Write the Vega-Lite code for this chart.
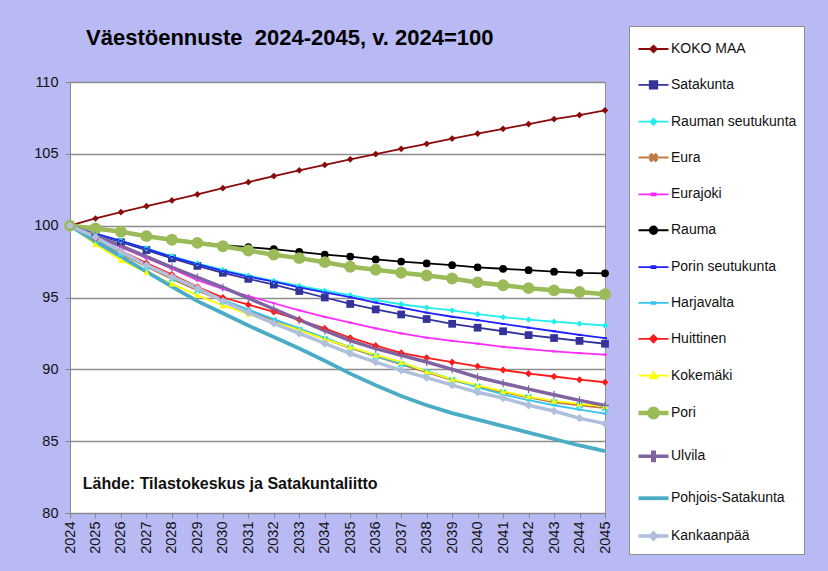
{
"$schema": "https://vega.github.io/schema/vega-lite/v6.json",
"autosize": {"type": "none"},
"width": 535,
"height": 431,
"padding": {"left": 70, "top": 82, "right": 223, "bottom": 58},
"background": "#b9b9f4",
"title": {"text": "Väestöennuste\u00a0 2024-2045, v. 2024=100", "anchor": "start", "frame": "group", "dx": 16, "dy": 56, "offset": 32, "font": "Liberation Sans", "fontSize": 22, "fontWeight": "bold", "color": "#000000"},
"data": {"values": [
{"s":"KOKO MAA","t":2024,"v":100},{"s":"KOKO MAA","t":2025,"v":100.5},{"s":"KOKO MAA","t":2026,"v":100.94},{"s":"KOKO MAA","t":2027,"v":101.36},{"s":"KOKO MAA","t":2028,"v":101.76},{"s":"KOKO MAA","t":2029,"v":102.18},{"s":"KOKO MAA","t":2030,"v":102.61},{"s":"KOKO MAA","t":2031,"v":103.03},{"s":"KOKO MAA","t":2032,"v":103.45},{"s":"KOKO MAA","t":2033,"v":103.85},{"s":"KOKO MAA","t":2034,"v":104.23},{"s":"KOKO MAA","t":2035,"v":104.62},{"s":"KOKO MAA","t":2036,"v":104.98},{"s":"KOKO MAA","t":2037,"v":105.35},{"s":"KOKO MAA","t":2038,"v":105.7},{"s":"KOKO MAA","t":2039,"v":106.06},{"s":"KOKO MAA","t":2040,"v":106.41},{"s":"KOKO MAA","t":2041,"v":106.74},{"s":"KOKO MAA","t":2042,"v":107.07},{"s":"KOKO MAA","t":2043,"v":107.42},{"s":"KOKO MAA","t":2044,"v":107.7},{"s":"KOKO MAA","t":2045,"v":108.03},
{"s":"Satakunta","t":2024,"v":100},{"s":"Satakunta","t":2025,"v":99.4},{"s":"Satakunta","t":2026,"v":98.85},{"s":"Satakunta","t":2027,"v":98.3},{"s":"Satakunta","t":2028,"v":97.72},{"s":"Satakunta","t":2029,"v":97.2},{"s":"Satakunta","t":2030,"v":96.72},{"s":"Satakunta","t":2031,"v":96.3},{"s":"Satakunta","t":2032,"v":95.9},{"s":"Satakunta","t":2033,"v":95.45},{"s":"Satakunta","t":2034,"v":95.0},{"s":"Satakunta","t":2035,"v":94.55},{"s":"Satakunta","t":2036,"v":94.17},{"s":"Satakunta","t":2037,"v":93.82},{"s":"Satakunta","t":2038,"v":93.5},{"s":"Satakunta","t":2039,"v":93.17},{"s":"Satakunta","t":2040,"v":92.9},{"s":"Satakunta","t":2041,"v":92.65},{"s":"Satakunta","t":2042,"v":92.38},{"s":"Satakunta","t":2043,"v":92.18},{"s":"Satakunta","t":2044,"v":91.98},{"s":"Satakunta","t":2045,"v":91.78},
{"s":"Rauman seutukunta","t":2024,"v":100},{"s":"Rauman seutukunta","t":2025,"v":99.45},{"s":"Rauman seutukunta","t":2026,"v":98.95},{"s":"Rauman seutukunta","t":2027,"v":98.42},{"s":"Rauman seutukunta","t":2028,"v":97.87},{"s":"Rauman seutukunta","t":2029,"v":97.37},{"s":"Rauman seutukunta","t":2030,"v":96.92},{"s":"Rauman seutukunta","t":2031,"v":96.52},{"s":"Rauman seutukunta","t":2032,"v":96.15},{"s":"Rauman seutukunta","t":2033,"v":95.8},{"s":"Rauman seutukunta","t":2034,"v":95.47},{"s":"Rauman seutukunta","t":2035,"v":95.16},{"s":"Rauman seutukunta","t":2036,"v":94.82},{"s":"Rauman seutukunta","t":2037,"v":94.53},{"s":"Rauman seutukunta","t":2038,"v":94.3},{"s":"Rauman seutukunta","t":2039,"v":94.1},{"s":"Rauman seutukunta","t":2040,"v":93.84},{"s":"Rauman seutukunta","t":2041,"v":93.63},{"s":"Rauman seutukunta","t":2042,"v":93.46},{"s":"Rauman seutukunta","t":2043,"v":93.32},{"s":"Rauman seutukunta","t":2044,"v":93.18},{"s":"Rauman seutukunta","t":2045,"v":93.05},
{"s":"Eura","t":2024,"v":100},{"s":"Eura","t":2025,"v":99.0},{"s":"Eura","t":2026,"v":98.05},{"s":"Eura","t":2027,"v":97.15},{"s":"Eura","t":2028,"v":96.3},{"s":"Eura","t":2029,"v":95.5},{"s":"Eura","t":2030,"v":94.75},{"s":"Eura","t":2031,"v":94.05},{"s":"Eura","t":2032,"v":93.4},{"s":"Eura","t":2033,"v":92.75},{"s":"Eura","t":2034,"v":92.1},{"s":"Eura","t":2035,"v":91.5},{"s":"Eura","t":2036,"v":90.9},{"s":"Eura","t":2037,"v":90.35},{"s":"Eura","t":2038,"v":89.8},{"s":"Eura","t":2039,"v":89.25},{"s":"Eura","t":2040,"v":88.8},{"s":"Eura","t":2041,"v":88.4},{"s":"Eura","t":2042,"v":88.05},{"s":"Eura","t":2043,"v":87.7},{"s":"Eura","t":2044,"v":87.5},{"s":"Eura","t":2045,"v":87.3},
{"s":"Eurajoki","t":2024,"v":100},{"s":"Eurajoki","t":2025,"v":99.25},{"s":"Eurajoki","t":2026,"v":98.5},{"s":"Eurajoki","t":2027,"v":97.75},{"s":"Eurajoki","t":2028,"v":97.0},{"s":"Eurajoki","t":2029,"v":96.2},{"s":"Eurajoki","t":2030,"v":95.6},{"s":"Eurajoki","t":2031,"v":95.1},{"s":"Eurajoki","t":2032,"v":94.6},{"s":"Eurajoki","t":2033,"v":94.1},{"s":"Eurajoki","t":2034,"v":93.65},{"s":"Eurajoki","t":2035,"v":93.25},{"s":"Eurajoki","t":2036,"v":92.85},{"s":"Eurajoki","t":2037,"v":92.5},{"s":"Eurajoki","t":2038,"v":92.2},{"s":"Eurajoki","t":2039,"v":91.98},{"s":"Eurajoki","t":2040,"v":91.79},{"s":"Eurajoki","t":2041,"v":91.57},{"s":"Eurajoki","t":2042,"v":91.4},{"s":"Eurajoki","t":2043,"v":91.25},{"s":"Eurajoki","t":2044,"v":91.13},{"s":"Eurajoki","t":2045,"v":91.02},
{"s":"Rauma","t":2024,"v":100},{"s":"Rauma","t":2025,"v":99.8},{"s":"Rauma","t":2026,"v":99.57},{"s":"Rauma","t":2027,"v":99.3},{"s":"Rauma","t":2028,"v":99.05},{"s":"Rauma","t":2029,"v":98.85},{"s":"Rauma","t":2030,"v":98.65},{"s":"Rauma","t":2031,"v":98.5},{"s":"Rauma","t":2032,"v":98.36},{"s":"Rauma","t":2033,"v":98.18},{"s":"Rauma","t":2034,"v":97.98},{"s":"Rauma","t":2035,"v":97.85},{"s":"Rauma","t":2036,"v":97.65},{"s":"Rauma","t":2037,"v":97.5},{"s":"Rauma","t":2038,"v":97.37},{"s":"Rauma","t":2039,"v":97.25},{"s":"Rauma","t":2040,"v":97.1},{"s":"Rauma","t":2041,"v":97.0},{"s":"Rauma","t":2042,"v":96.9},{"s":"Rauma","t":2043,"v":96.8},{"s":"Rauma","t":2044,"v":96.72},{"s":"Rauma","t":2045,"v":96.68},
{"s":"Porin seutukunta","t":2024,"v":100},{"s":"Porin seutukunta","t":2025,"v":99.45},{"s":"Porin seutukunta","t":2026,"v":98.95},{"s":"Porin seutukunta","t":2027,"v":98.4},{"s":"Porin seutukunta","t":2028,"v":97.82},{"s":"Porin seutukunta","t":2029,"v":97.33},{"s":"Porin seutukunta","t":2030,"v":96.85},{"s":"Porin seutukunta","t":2031,"v":96.45},{"s":"Porin seutukunta","t":2032,"v":96.1},{"s":"Porin seutukunta","t":2033,"v":95.7},{"s":"Porin seutukunta","t":2034,"v":95.35},{"s":"Porin seutukunta","t":2035,"v":95.03},{"s":"Porin seutukunta","t":2036,"v":94.65},{"s":"Porin seutukunta","t":2037,"v":94.3},{"s":"Porin seutukunta","t":2038,"v":93.95},{"s":"Porin seutukunta","t":2039,"v":93.66},{"s":"Porin seutukunta","t":2040,"v":93.42},{"s":"Porin seutukunta","t":2041,"v":93.16},{"s":"Porin seutukunta","t":2042,"v":92.9},{"s":"Porin seutukunta","t":2043,"v":92.65},{"s":"Porin seutukunta","t":2044,"v":92.4},{"s":"Porin seutukunta","t":2045,"v":92.17},
{"s":"Harjavalta","t":2024,"v":100},{"s":"Harjavalta","t":2025,"v":99.1},{"s":"Harjavalta","t":2026,"v":98.15},{"s":"Harjavalta","t":2027,"v":97.25},{"s":"Harjavalta","t":2028,"v":96.4},{"s":"Harjavalta","t":2029,"v":95.6},{"s":"Harjavalta","t":2030,"v":94.85},{"s":"Harjavalta","t":2031,"v":94.15},{"s":"Harjavalta","t":2032,"v":93.5},{"s":"Harjavalta","t":2033,"v":92.85},{"s":"Harjavalta","t":2034,"v":92.2},{"s":"Harjavalta","t":2035,"v":91.55},{"s":"Harjavalta","t":2036,"v":90.95},{"s":"Harjavalta","t":2037,"v":90.4},{"s":"Harjavalta","t":2038,"v":89.9},{"s":"Harjavalta","t":2039,"v":89.3},{"s":"Harjavalta","t":2040,"v":88.75},{"s":"Harjavalta","t":2041,"v":88.25},{"s":"Harjavalta","t":2042,"v":87.85},{"s":"Harjavalta","t":2043,"v":87.5},{"s":"Harjavalta","t":2044,"v":87.2},{"s":"Harjavalta","t":2045,"v":86.92},
{"s":"Huittinen","t":2024,"v":100},{"s":"Huittinen","t":2025,"v":99.1},{"s":"Huittinen","t":2026,"v":98.25},{"s":"Huittinen","t":2027,"v":97.4},{"s":"Huittinen","t":2028,"v":96.6},{"s":"Huittinen","t":2029,"v":95.75},{"s":"Huittinen","t":2030,"v":95.0},{"s":"Huittinen","t":2031,"v":94.5},{"s":"Huittinen","t":2032,"v":94.0},{"s":"Huittinen","t":2033,"v":93.45},{"s":"Huittinen","t":2034,"v":92.85},{"s":"Huittinen","t":2035,"v":92.2},{"s":"Huittinen","t":2036,"v":91.65},{"s":"Huittinen","t":2037,"v":91.15},{"s":"Huittinen","t":2038,"v":90.8},{"s":"Huittinen","t":2039,"v":90.5},{"s":"Huittinen","t":2040,"v":90.21},{"s":"Huittinen","t":2041,"v":89.95},{"s":"Huittinen","t":2042,"v":89.7},{"s":"Huittinen","t":2043,"v":89.5},{"s":"Huittinen","t":2044,"v":89.28},{"s":"Huittinen","t":2045,"v":89.1},
{"s":"Kokemäki","t":2024,"v":100},{"s":"Kokemäki","t":2025,"v":98.7},{"s":"Kokemäki","t":2026,"v":97.6},{"s":"Kokemäki","t":2027,"v":96.75},{"s":"Kokemäki","t":2028,"v":95.95},{"s":"Kokemäki","t":2029,"v":95.15},{"s":"Kokemäki","t":2030,"v":94.45},{"s":"Kokemäki","t":2031,"v":93.85},{"s":"Kokemäki","t":2032,"v":93.3},{"s":"Kokemäki","t":2033,"v":92.75},{"s":"Kokemäki","t":2034,"v":92.1},{"s":"Kokemäki","t":2035,"v":91.55},{"s":"Kokemäki","t":2036,"v":91.0},{"s":"Kokemäki","t":2037,"v":90.5},{"s":"Kokemäki","t":2038,"v":89.85},{"s":"Kokemäki","t":2039,"v":89.3},{"s":"Kokemäki","t":2040,"v":88.88},{"s":"Kokemäki","t":2041,"v":88.46},{"s":"Kokemäki","t":2042,"v":88.1},{"s":"Kokemäki","t":2043,"v":87.8},{"s":"Kokemäki","t":2044,"v":87.6},{"s":"Kokemäki","t":2045,"v":87.43},
{"s":"Pori","t":2024,"v":100},{"s":"Pori","t":2025,"v":99.81},{"s":"Pori","t":2026,"v":99.58},{"s":"Pori","t":2027,"v":99.27},{"s":"Pori","t":2028,"v":99.02},{"s":"Pori","t":2029,"v":98.8},{"s":"Pori","t":2030,"v":98.57},{"s":"Pori","t":2031,"v":98.27},{"s":"Pori","t":2032,"v":97.98},{"s":"Pori","t":2033,"v":97.74},{"s":"Pori","t":2034,"v":97.46},{"s":"Pori","t":2035,"v":97.14},{"s":"Pori","t":2036,"v":96.93},{"s":"Pori","t":2037,"v":96.72},{"s":"Pori","t":2038,"v":96.53},{"s":"Pori","t":2039,"v":96.32},{"s":"Pori","t":2040,"v":96.05},{"s":"Pori","t":2041,"v":95.85},{"s":"Pori","t":2042,"v":95.65},{"s":"Pori","t":2043,"v":95.5},{"s":"Pori","t":2044,"v":95.38},{"s":"Pori","t":2045,"v":95.23},
{"s":"Ulvila","t":2024,"v":100},{"s":"Ulvila","t":2025,"v":99.3},{"s":"Ulvila","t":2026,"v":98.6},{"s":"Ulvila","t":2027,"v":97.85},{"s":"Ulvila","t":2028,"v":97.1},{"s":"Ulvila","t":2029,"v":96.4},{"s":"Ulvila","t":2030,"v":95.7},{"s":"Ulvila","t":2031,"v":94.95},{"s":"Ulvila","t":2032,"v":94.2},{"s":"Ulvila","t":2033,"v":93.45},{"s":"Ulvila","t":2034,"v":92.7},{"s":"Ulvila","t":2035,"v":92.0},{"s":"Ulvila","t":2036,"v":91.44},{"s":"Ulvila","t":2037,"v":90.98},{"s":"Ulvila","t":2038,"v":90.51},{"s":"Ulvila","t":2039,"v":90.0},{"s":"Ulvila","t":2040,"v":89.45},{"s":"Ulvila","t":2041,"v":89.03},{"s":"Ulvila","t":2042,"v":88.62},{"s":"Ulvila","t":2043,"v":88.23},{"s":"Ulvila","t":2044,"v":87.84},{"s":"Ulvila","t":2045,"v":87.49},
{"s":"Pohjois-Satakunta","t":2024,"v":100},{"s":"Pohjois-Satakunta","t":2025,"v":98.9},{"s":"Pohjois-Satakunta","t":2026,"v":97.85},{"s":"Pohjois-Satakunta","t":2027,"v":96.8},{"s":"Pohjois-Satakunta","t":2028,"v":95.75},{"s":"Pohjois-Satakunta","t":2029,"v":94.75},{"s":"Pohjois-Satakunta","t":2030,"v":93.9},{"s":"Pohjois-Satakunta","t":2031,"v":93.05},{"s":"Pohjois-Satakunta","t":2032,"v":92.25},{"s":"Pohjois-Satakunta","t":2033,"v":91.45},{"s":"Pohjois-Satakunta","t":2034,"v":90.6},{"s":"Pohjois-Satakunta","t":2035,"v":89.7},{"s":"Pohjois-Satakunta","t":2036,"v":88.9},{"s":"Pohjois-Satakunta","t":2037,"v":88.15},{"s":"Pohjois-Satakunta","t":2038,"v":87.5},{"s":"Pohjois-Satakunta","t":2039,"v":86.95},{"s":"Pohjois-Satakunta","t":2040,"v":86.5},{"s":"Pohjois-Satakunta","t":2041,"v":86.05},{"s":"Pohjois-Satakunta","t":2042,"v":85.6},{"s":"Pohjois-Satakunta","t":2043,"v":85.15},{"s":"Pohjois-Satakunta","t":2044,"v":84.7},{"s":"Pohjois-Satakunta","t":2045,"v":84.31},
{"s":"Kankaanpää","t":2024,"v":100},{"s":"Kankaanpää","t":2025,"v":99.2},{"s":"Kankaanpää","t":2026,"v":98.2},{"s":"Kankaanpää","t":2027,"v":97.25},{"s":"Kankaanpää","t":2028,"v":96.45},{"s":"Kankaanpää","t":2029,"v":95.65},{"s":"Kankaanpää","t":2030,"v":94.75},{"s":"Kankaanpää","t":2031,"v":93.95},{"s":"Kankaanpää","t":2032,"v":93.2},{"s":"Kankaanpää","t":2033,"v":92.5},{"s":"Kankaanpää","t":2034,"v":91.8},{"s":"Kankaanpää","t":2035,"v":91.1},{"s":"Kankaanpää","t":2036,"v":90.5},{"s":"Kankaanpää","t":2037,"v":89.93},{"s":"Kankaanpää","t":2038,"v":89.42},{"s":"Kankaanpää","t":2039,"v":88.9},{"s":"Kankaanpää","t":2040,"v":88.4},{"s":"Kankaanpää","t":2041,"v":88.0},{"s":"Kankaanpää","t":2042,"v":87.5},{"s":"Kankaanpää","t":2043,"v":87.1},{"s":"Kankaanpää","t":2044,"v":86.6},{"s":"Kankaanpää","t":2045,"v":86.22}
]},
"encoding": {
"x": {"field": "t", "type": "quantitative", "scale": {"domain": [2024, 2045], "nice": false, "zero": false},
 "axis": {"values": [2024,2025,2026,2027,2028,2029,2030,2031,2032,2033,2034,2035,2036,2037,2038,2039,2040,2041,2042,2043,2044,2045], "format": "d", "labelAngle": -90, "title": null, "grid": false, "labelFont": "Liberation Sans", "labelFontSize": 14.5, "labelColor": "#111111", "tickSize": 5, "tickColor": "#888888", "domainColor": "#888888", "labelPadding": 3}},
"y": {"field": "v", "type": "quantitative", "scale": {"domain": [80, 110], "nice": false, "zero": false},
 "axis": {"values": [80,85,90,95,100,105,110], "title": null, "grid": true, "gridColor": "#8c8c8c", "gridWidth": 1.3, "labelFont": "Liberation Sans", "labelFontSize": 14.5, "labelColor": "#111111", "tickSize": 5, "tickColor": "#888888", "domainColor": "#888888", "labelPadding": 7}}
},
"layer": [
{"mark": {"type": "line", "interpolate": "linear"},
 "encoding": {
  "stroke": {"field": "s", "type": "nominal", "legend": {"title": null},
   "scale": {"domain": ["KOKO MAA","Satakunta","Rauman seutukunta","Eura","Eurajoki","Rauma","Porin seutukunta","Harjavalta","Huittinen","Kokemäki","Pori","Ulvila","Pohjois-Satakunta","Kankaanpää"],
             "range": ["#8b0a0a","#333399","#22eeee","#c07a45","#ff2bff","#000000","#2020ff","#33c4f0","#ff1a1a","#ffff00","#9bbb59","#8064a2","#4bacc6","#b0c0dc"]}},
  "strokeWidth": {"field": "s", "type": "nominal", "legend": {"title": null},
   "scale": {"type": "ordinal", "domain": ["KOKO MAA","Satakunta","Rauman seutukunta","Eura","Eurajoki","Rauma","Porin seutukunta","Harjavalta","Huittinen","Kokemäki","Pori","Ulvila","Pohjois-Satakunta","Kankaanpää"],
             "range": [1.8,1.8,1.8,2,1.8,1.8,1.8,1.8,1.8,1.8,4.5,3.5,3.8,3.5]}}
 }},
{"transform": [{"filter": {"field": "s", "equal": "KOKO MAA"}}], "mark": {"type": "point", "filled": true, "opacity": 1, "shape": "diamond", "size": 45, "color": "#8b0a0a"}},
{"transform": [{"filter": {"field": "s", "equal": "Satakunta"}}], "mark": {"type": "point", "filled": true, "opacity": 1, "shape": "square", "size": 60, "color": "#333399"}},
{"transform": [{"filter": {"field": "s", "equal": "Rauman seutukunta"}}], "mark": {"type": "point", "filled": true, "opacity": 1, "shape": "diamond", "size": 40, "color": "#22eeee"}},
{"transform": [{"filter": {"field": "s", "equal": "Eura"}}], "mark": {"type": "point", "filled": true, "opacity": 1, "shape": "M-1,-0.6L-0.6,-1L0,-0.4L0.6,-1L1,-0.6L0.4,0L1,0.6L0.6,1L0,0.4L-0.6,1L-1,0.6L-0.4,0Z", "size": 50, "color": "#30e0e0"}},
{"transform": [{"filter": {"field": "s", "equal": "Eurajoki"}}], "mark": {"type": "point", "filled": true, "opacity": 1, "shape": "M-1,-0.5H1V0.5H-1Z", "size": 16, "color": "#ff2bff"}},
{"transform": [{"filter": {"field": "s", "equal": "Rauma"}}], "mark": {"type": "point", "filled": true, "opacity": 1, "shape": "circle", "size": 60, "color": "#000000"}},
{"transform": [{"filter": {"field": "s", "equal": "Porin seutukunta"}}], "mark": {"type": "point", "filled": true, "opacity": 1, "shape": "M-1,-0.5H1V0.5H-1Z", "size": 16, "color": "#2020ff"}},
{"transform": [{"filter": {"field": "s", "equal": "Harjavalta"}}], "mark": {"type": "point", "filled": true, "opacity": 1, "shape": "M-1,-0.5H1V0.5H-1Z", "size": 16, "color": "#33c4f0"}},
{"transform": [{"filter": {"field": "s", "equal": "Huittinen"}}], "mark": {"type": "point", "filled": true, "opacity": 1, "shape": "diamond", "size": 50, "color": "#ff1a1a"}},
{"transform": [{"filter": {"field": "s", "equal": "Kokemäki"}}], "mark": {"type": "point", "filled": true, "opacity": 1, "shape": "triangle-up", "size": 40, "color": "#ffff00"}},
{"transform": [{"filter": {"field": "s", "equal": "Pori"}}], "mark": {"type": "point", "filled": true, "opacity": 1, "shape": "circle", "size": 140, "color": "#9bbb59"}},
{"transform": [{"filter": {"field": "s", "equal": "Ulvila"}}], "mark": {"type": "point", "filled": true, "opacity": 1, "shape": "M-0.15,-1H0.15V-0.15H1V0.15H0.15V1H-0.15V0.15H-1V-0.15H-0.15Z", "size": 64, "color": "#8064a2"}},
{"transform": [{"filter": {"field": "s", "equal": "Kankaanpää"}}], "mark": {"type": "point", "filled": true, "opacity": 1, "shape": "diamond", "size": 70, "color": "#b0c0dc"}},
{"transform": [{"filter": {"field": "t", "equal": 2024}}],
 "mark": {"type": "point", "filled": true, "opacity": 0},
 "encoding": {
  "stroke": {"field": "s", "type": "nominal", "legend": {"title": null},
   "scale": {"domain": ["KOKO MAA","Satakunta","Rauman seutukunta","Eura","Eurajoki","Rauma","Porin seutukunta","Harjavalta","Huittinen","Kokemäki","Pori","Ulvila","Pohjois-Satakunta","Kankaanpää"],
             "range": ["#8b0a0a","#333399","#22eeee","#c07a45","#ff2bff","#000000","#2020ff","#33c4f0","#ff1a1a","#ffff00","#9bbb59","#8064a2","#4bacc6","#b0c0dc"]}},
  "strokeWidth": {"field": "s", "type": "nominal", "legend": {"title": null},
   "scale": {"type": "ordinal", "domain": ["KOKO MAA","Satakunta","Rauman seutukunta","Eura","Eurajoki","Rauma","Porin seutukunta","Harjavalta","Huittinen","Kokemäki","Pori","Ulvila","Pohjois-Satakunta","Kankaanpää"],
             "range": [1.8,1.8,1.8,2,1.8,1.8,1.8,1.8,1.8,1.8,4.5,3.5,3.8,3.5]}},
  "fill": {"field": "s", "type": "nominal", "legend": {"title": null},
   "scale": {"domain": ["KOKO MAA","Satakunta","Rauman seutukunta","Eura","Eurajoki","Rauma","Porin seutukunta","Harjavalta","Huittinen","Kokemäki","Pori","Ulvila","Pohjois-Satakunta","Kankaanpää"],
             "range": ["#8b0a0a","#333399","#22eeee","#30e0e0","#ff2bff","#000000","#2020ff","#33c4f0","#ff1a1a","#ffff00","#9bbb59","#8064a2","#4bacc6","#b0c0dc"]}},
  "shape": {"field": "s", "type": "nominal", "legend": {"title": null},
   "scale": {"domain": ["KOKO MAA","Satakunta","Rauman seutukunta","Eura","Eurajoki","Rauma","Porin seutukunta","Harjavalta","Huittinen","Kokemäki","Pori","Ulvila","Pohjois-Satakunta","Kankaanpää"],
             "range": [
"M-1,0H1M0,-0.22L0.22,0L0,0.22L-0.22,0Z",
"M-1,0H1M-0.25,-0.25H0.25V0.25H-0.25Z",
"M-1,0H1M0,-0.2L0.2,0L0,0.2L-0.2,0Z",
"M-1,0H1M-0.23,-0.14L-0.14,-0.23L0,-0.09L0.14,-0.23L0.23,-0.14L0.09,0L0.23,0.14L0.14,0.23L0,0.09L-0.14,0.23L-0.23,0.14L-0.09,0Z",
"M-1,0H1M-0.13,-0.06H0.13V0.06H-0.13Z",
"M-1,0H1M-0.25,0A0.25,0.25,0,1,0,0.25,0A0.25,0.25,0,1,0,-0.25,0Z",
"M-1,0H1M-0.13,-0.06H0.13V0.06H-0.13Z",
"M-1,0H1M-0.13,-0.06H0.13V0.06H-0.13Z",
"M-1,0H1M0,-0.24L0.24,0L0,0.24L-0.24,0Z",
"M-1,0H1M0,-0.23L0.23,0.18H-0.23Z",
"M-1,0H1M-0.28,0A0.28,0.28,0,1,0,0.28,0A0.28,0.28,0,1,0,-0.28,0Z",
"M-1,0H1M-0.05,-0.27H0.05V0.27H-0.05Z",
"M-1,0H1",
"M-1,0H1M0,-0.2L0.2,0L0,0.2L-0.2,0Z"]}}
 }},
{"transform": [{"filter": {"field": "t", "equal": 2024}}, {"filter": {"field": "s", "equal": "KOKO MAA"}}],
 "mark": {"type": "text", "align": "left", "baseline": "middle", "font": "Liberation Sans", "fontSize": 16, "fontWeight": "bold", "color": "#111111"},
 "encoding": {
  "x": {"datum": 2024.5, "type": "quantitative"},
  "y": {"datum": 82.0, "type": "quantitative"},
  "text": {"value": "Lähde: Tilastokeskus ja Satakuntaliitto"}
 }}
],
"config": {
 "view": {"stroke": "#909090", "strokeWidth": 1, "fill": "#ffffff"},
 "legend": {"orient": "none", "legendX": 559, "legendY": -56, "fillColor": "#ffffff", "strokeColor": "#8c8c8c", "padding": 7, "rowPadding": 12.85, "symbolSize": 900, "symbolOpacity": 1, "labelFont": "Liberation Sans", "labelFontSize": 14, "labelColor": "#111111", "labelOffset": 0, "labelLimit": 300}
}
}
